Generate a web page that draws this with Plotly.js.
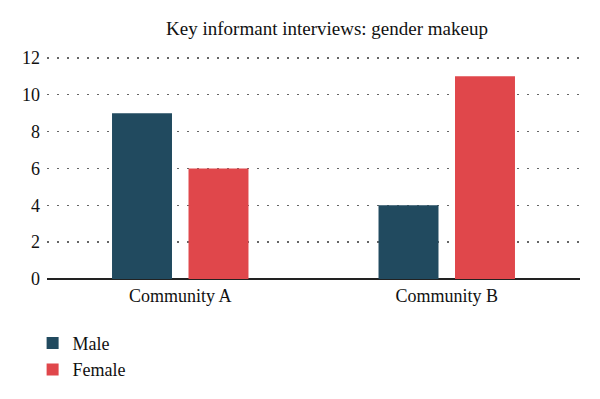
<!DOCTYPE html>
<html><head><meta charset="utf-8">
<script src="https://cdn.plot.ly/plotly-3.0.1.min.js"></script>
<style>html,body{margin:0;padding:0;background:#fff}#chart{width:600px;height:399px}</style>
</head><body><div id="chart"></div>
<script>
const categories = ["Community A", "Community B"];
const maleValues = [9, 4];
const femaleValues = [6, 11];
const seriesNames = ["Male", "Female"];
const yTicks = [0, 2, 4, 6, 8, 10, 12];

const font = "Liberation Serif, 'DejaVu Serif', serif";
const data = [
  {type: "bar", x: categories, y: maleValues, name: seriesNames[0], marker: {color: "#214a5f"}},
  {type: "bar", x: categories, y: femaleValues, name: seriesNames[1], marker: {color: "#e0474b"}}
];
const layout = {
  width: 600, height: 399,
  margin: {l: 47, r: 20, t: 56, b: 119},
  paper_bgcolor: "#fff", plot_bgcolor: "#fff",
  font: {family: font, color: "#111", size: 17},
  title: {text: "Key informant interviews: gender makeup", font: {family: font, size: 19, color: "#111"}, x: 0.545, xanchor: "center", y: 0.93, yanchor: "middle"},
  barmode: "group", bargap: 0.426, bargroupgap: 0.216,
  xaxis: {range: [-0.5, 1.5], showgrid: false, showline: false, ticks: "", ticklabelstandoff: 4, tickfont: {family: font, size: 18, color: "#111"}},
  yaxis: {range: [0, 12.1], tickvals: yTicks, ticktext: yTicks.map(String), showgrid: true, gridcolor: "#666", griddash: "1.5px,8.5px", gridwidth: 1.5,
          zeroline: true, zerolinecolor: "#222", zerolinewidth: 1.6, showline: false, ticks: "", ticklabelstandoff: 6,
          tickfont: {family: font, size: 18, color: "#111"}},
  showlegend: true,
  legend: {orientation: "v", x: -0.027, xanchor: "left", y: -0.2, yanchor: "top", font: {family: font, size: 18, color: "#111"}, tracegroupgap: 8, itemwidth: 30}
};
Plotly.newPlot("chart", data, layout, {displayModeBar: false, staticPlot: true});
</script></body></html>
